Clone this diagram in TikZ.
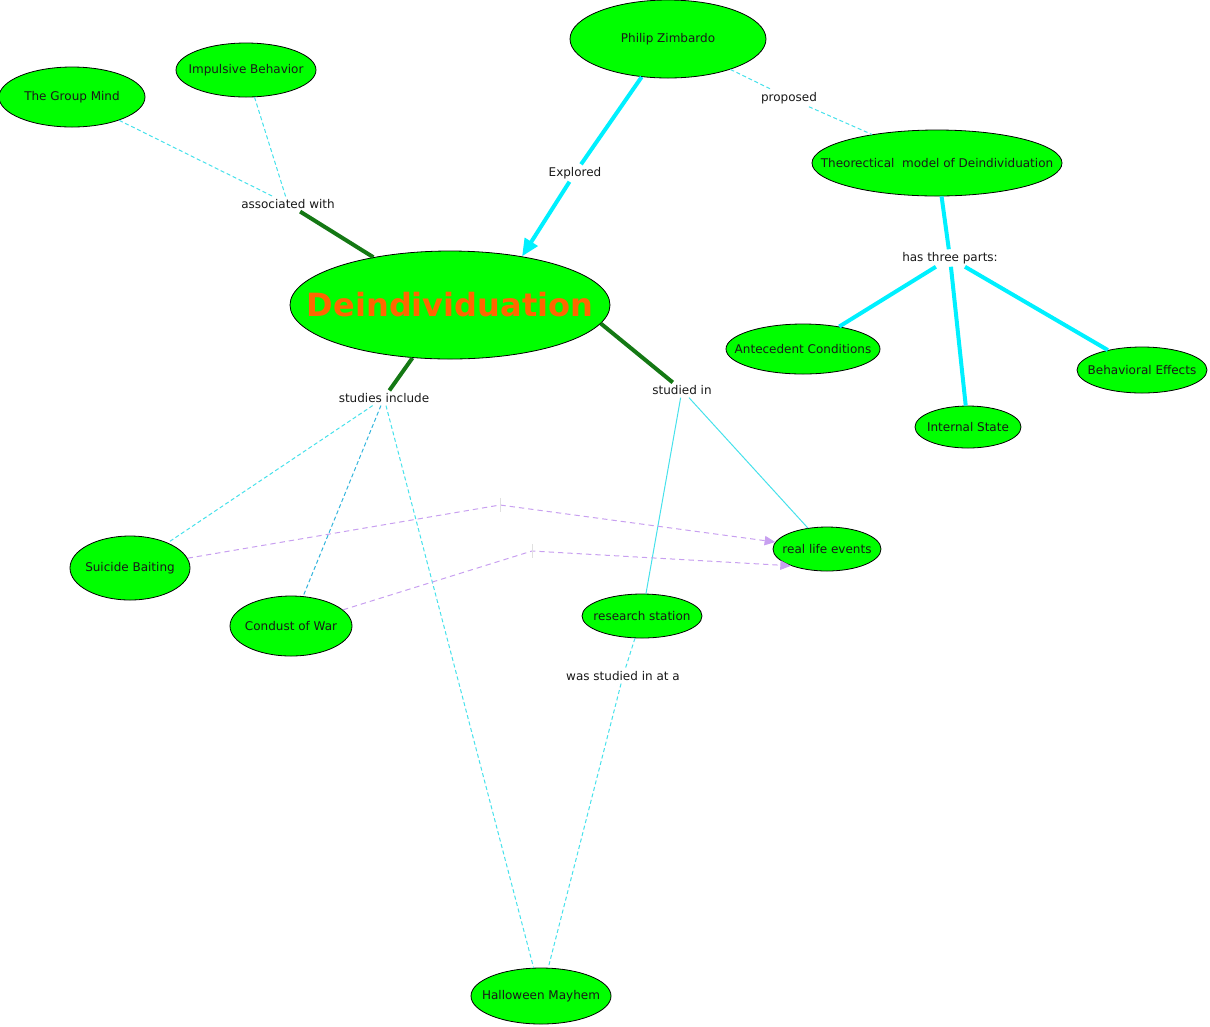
\documentclass[tikz,border=0pt]{standalone}
\usepackage{fontspec}
\setmainfont{DejaVu Sans}
\usetikzlibrary{shapes.geometric,arrows.meta,calc}
\definecolor{ngreen}{RGB}{0,255,0}
\definecolor{dgreen}{RGB}{20,120,20}
\definecolor{cy}{RGB}{0,240,255}
\definecolor{lcy}{RGB}{70,225,235}
\definecolor{pur}{RGB}{200,160,240}
\definecolor{ora}{RGB}{255,102,0}
\definecolor{tealw}{RGB}{50,180,220}
\newcommand{\ctx}[1]{\makebox[0pt][c]{#1}}
\begin{document}
\begin{tikzpicture}[x=0.75pt,y=-0.75pt,
  concept/.style 2 args={ellipse,draw=black,line width=0.6pt,fill=ngreen,inner sep=0pt,
    minimum width=#1*1.5pt,minimum height=#2*1.5pt,font=\fontsize{9}{10}\selectfont,text=black!90},
  lbl/.style={fill=white,inner sep=2pt,font=\fontsize{9}{10}\selectfont,text=black!90},
  thickg/.style={draw=dgreen,line width=3pt},
  thickc/.style={draw=cy,line width=3pt},
  thinc/.style={draw=lcy,line width=0.75pt},
  dashc/.style={draw=lcy,line width=0.75pt,dash pattern=on 3pt off 2pt},
  dashp/.style={draw=pur,line width=0.75pt,dash pattern=on 4pt off 3pt,
    -{Triangle[length=8pt,width=7pt]}},
]
\useasboundingbox (0,0) rectangle (1210,1026);

% concepts
\node[concept={98}{39}] (pz) at (668,39) {\ctx{Philip Zimbardo}};
\node[concept={73}{30}] (gm) at (72,97) {\ctx{The Group Mind}};
\node[concept={70}{27}] (ib) at (246,70) {\ctx{Impulsive Behavior}};
\node[concept={160}{54}, font=\fontsize{24}{26}\selectfont\bfseries, text=ora] (dei) at (450,305) {\ctx{Deindividuation}};
\node[concept={125}{33}] (tm) at (937,163) {\ctx{Theorectical\ \ model of Deindividuation}};
\node[concept={77}{25}] (ac) at (803,349) {\ctx{Antecedent Conditions}};
\node[concept={53}{21}] (is) at (968,427) {\ctx{Internal State}};
\node[concept={65}{23}] (be) at (1142,370) {\ctx{Behavioral Effects}};
\node[concept={54}{22}] (rle) at (827,549) {\ctx{real life events}};
\node[concept={60}{32}] (sb) at (130,568) {\ctx{Suicide Baiting}};
\node[concept={61}{30}] (cw) at (291,626) {\ctx{Condust of War}};
\node[concept={60}{22}] (rs) at (642,616) {\ctx{research station}};
\node[concept={70}{28}] (hm) at (541,996) {\ctx{Halloween Mayhem}};

% link labels
\node[lbl] (aw) at (288,204) {associated with};
\node[lbl] (ex) at (575,173) {Explored};
\node[lbl] (pr) at (789,98) {proposed};
\node[lbl] (htp) at (950,258) {has three parts:};
\node[lbl] (si) at (384,398) {studies include};
\node[lbl] (sti) at (682,390) {studied in};
\node[lbl] (wsa) at (623,676) {was studied in at a};

\coordinate (b1) at (500,505);
\coordinate (b2) at (532,551);
\coordinate (awl) at ($(aw.north)+(-15,0)$);

% connectors
\draw[dashc] (gm) -- (awl);
\draw[dashc] (ib) -- (aw);
\draw[thickg] (aw) -- (dei);

\draw[thickc] (pz) -- (ex);
\draw[thickc,-{Triangle[length=13pt,width=11pt]}] (ex) -- (dei.34);

\draw[dashc] (pz) -- (pr);
\draw[dashc] (pr) -- (tm);

\draw[thickc] (tm) -- (htp);
\draw[thickc] (htp) -- (ac);
\draw[thickc] (htp) -- (is);
\draw[thickc] (htp) -- (be);

\draw[thickg] (dei) -- (si);
\draw[thickg] (dei.-7) -- (sti);

\draw[dashc] (si) -- (sb);
\draw[draw=tealw,line width=0.75pt,dash pattern=on 3pt off 2pt] (si) -- (cw);
\draw[dashc] (si) -- (hm);

\draw[thinc] (sti) -- (rs);
\draw[thinc] (sti) -- (rle);

\draw[dashc] (rs) -- (wsa);
\draw[dashc] (wsa) -- (hm);

\draw[dashp] (sb) -- (b1) -- (rle);
\draw[dashp] (cw) -- (b2) -- (rle.205);
\draw[black!12,line width=0.5pt] (500,498) -- (500,512);
\draw[black!12,line width=0.5pt] (532,544) -- (532,558);
\end{tikzpicture}
\end{document}
